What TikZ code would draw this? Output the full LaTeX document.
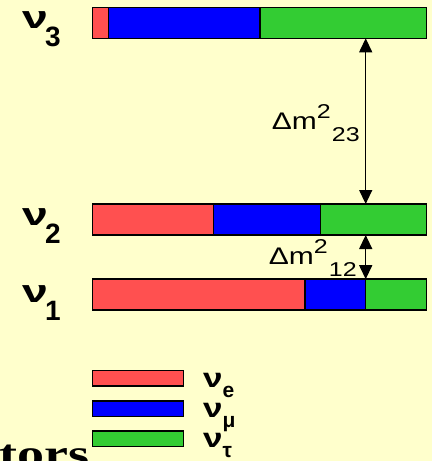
\documentclass[tikz,border=0pt]{standalone}
\usepackage{graphicx}
\usepackage{fontspec}
\setmainfont{Liberation Sans}
\newfontfamily\slideserif{Liberation Serif}
\usetikzlibrary{arrows.meta, positioning, calc}

\definecolor{slidebg}{HTML}{FFFFCC}
\definecolor{flavE}{HTML}{FF5050}
\definecolor{flavMu}{HTML}{0000FF}
\definecolor{flavTau}{HTML}{33CC33}

% labels: mass state, flavour state, mass splitting
\newcommand{\masslabel}[1]{{\fontsize{32}{32}\selectfont\bfseries\scalebox{1.45}[1]{ν}\kern-3pt\raisebox{-18pt}{\fontsize{28}{28}\selectfont #1}}}
\newcommand{\flavlabel}[1]{{\fontsize{27}{27}\selectfont\bfseries\scalebox{1.3}[1]{ν}\raisebox{-10pt}{\fontsize{21}{21}\selectfont #1}}}
\newcommand{\dmlabel}[1]{\scalebox{1.25}[1]{\fontsize{24}{24}\selectfont Δm\raisebox{11pt}{\fontsize{20}{20}\selectfont 2}\kern1pt\raisebox{-12.5pt}{\fontsize{20}{20}\selectfont #1}}}

\begin{document}
\begin{tikzpicture}[
		x=1pt, y=-1pt,
		% Bar segment styles
		seg/.style={draw=black, line width=1.5pt, minimum height=31pt, inner sep=0pt, outer sep=0pt, anchor=west},
		keybox/.style={draw=black, line width=1.5pt, minimum width=91pt, minimum height=15.5pt, inner sep=0pt, outer sep=0pt, anchor=west},
		% Splitting arrows
		gap/.style={{Triangle[width=13pt,length=14pt]}-{Triangle[width=13pt,length=14pt]}, line width=1.3pt},
		txt/.style={inner sep=0pt, anchor=base west}
		]
		
		\path[use as bounding box, fill=slidebg] (0,0) rectangle (432,461);
		\clip (0,0) rectangle (432,461);
		
		% --- MASS STATES ---
		\node[seg, fill=flavE, minimum width=15.6pt] (nu3e) at (92.7,22.8) {};
		\node[seg, fill=flavMu, minimum width=151.7pt, right=0pt of nu3e] (nu3m) {};
		\node[seg, fill=flavTau, minimum width=166.7pt, right=0pt of nu3m] (nu3t) {};
		
		\node[seg, fill=flavE, minimum width=121pt] (nu2e) at (92.7,219.5) {};
		\node[seg, fill=flavMu, minimum width=106.6pt, right=0pt of nu2e] (nu2m) {};
		\node[seg, fill=flavTau, minimum width=106.4pt, right=0pt of nu2m] (nu2t) {};
		
		\node[seg, fill=flavE, minimum width=212.3pt] (nu1e) at (92.7,294.7) {};
		\node[seg, fill=flavMu, minimum width=60.7pt, right=0pt of nu1e] (nu1m) {};
		\node[seg, fill=flavTau, minimum width=61pt, right=0pt of nu1m] (nu1t) {};
		
		\node[txt] (l3) at (22,28.3) {\masslabel{3}};
		\node[txt] (l2) at (22,225) {\masslabel{2}};
		\node[txt] (l1) at (22,302) {\masslabel{1}};
		
		% --- SPLITTINGS ---
		\draw[gap] (nu2t.north -| nu1t.west) -- (nu3t.south -| nu1t.west);
		\draw[gap] (nu2t.south -| nu1t.west) -- (nu1t.north west);
		
		\node[txt, anchor=base east] (dm23) at (360,129) {\dmlabel{23}};
		\node[txt, anchor=base east] (dm12) at (357,264) {\dmlabel{12}};
		
		% --- LEGEND ---
		\node[keybox, fill=flavE] (keye) at (92.7,378.3) {};
		\node[keybox, fill=flavMu] (keym) at (92.7,408.5) {};
		\node[keybox, fill=flavTau] (keyt) at (92.7,438.7) {};
		
		\node[txt] (fe) at (203,387) {\flavlabel{e}};
		\node[txt] (fm) at (203,417) {\flavlabel{μ}};
		\node[txt] (ft) at (203,447) {\flavlabel{τ}};
		
		\node[inner sep=0pt, anchor=base east] (frag) at (90,467) {\scalebox{1.35}[1]{\slideserif\bfseries\fontsize{40}{40}\selectfont tors}};
		
	\end{tikzpicture}
\end{document}
